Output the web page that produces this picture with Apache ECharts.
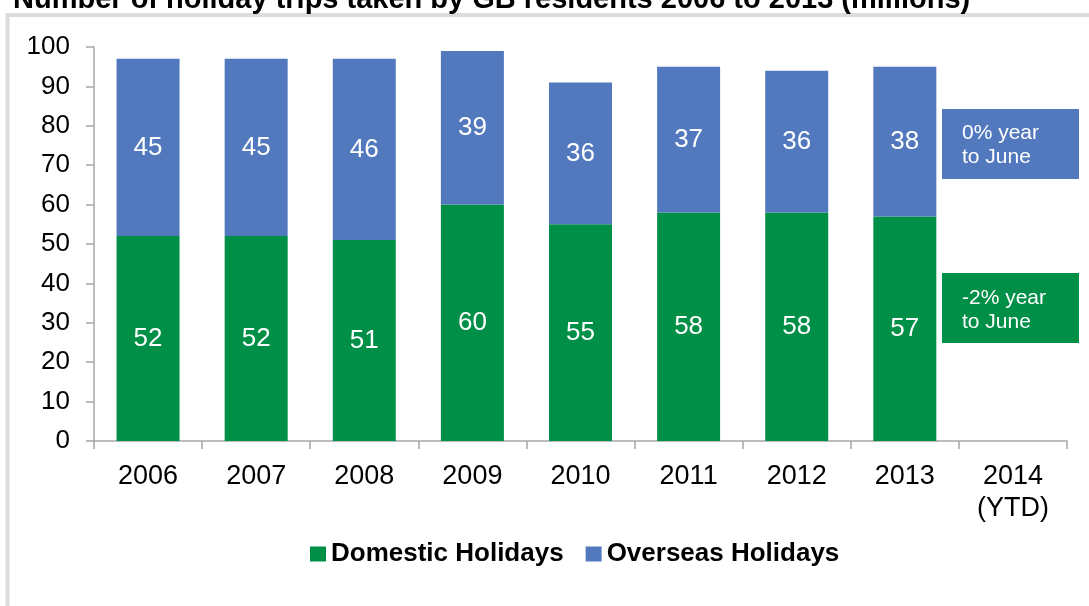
<!DOCTYPE html>
<html>
<head>
<meta charset="utf-8">
<script src="https://cdn.jsdelivr.net/npm/echarts@6/dist/echarts.min.js"></script>
<style>
  html, body { margin: 0; padding: 0; background: #ffffff; }
  #chart { width: 1089px; height: 606px; }
</style>
</head>
<body>
<div id="chart"></div>
<script>
// Holiday trips by GB residents, millions
const years = ['2006', '2007', '2008', '2009', '2010', '2011', '2012', '2013', '2014\n(YTD)'];
const domestic = [52, 52, 51, 60, 55, 58, 58, 57, null];
const overseas = [45, 45, 46, 39, 36, 37, 36, 38, null];
const yTicks = { min: 0, max: 100, interval: 10 };
const titleText = 'Number of holiday trips taken by GB residents 2006 to 2013 (millions)';
const notes = [
  { text: '0% year\nto June', color: '#5279be' },
  { text: '-2% year\nto June', color: '#008f47' }
];

const GREEN = '#008f47';
const BLUE = '#5279be';
const FONT = '"Liberation Sans", Arial, sans-serif';

const chart = echarts.init(document.getElementById('chart'), null, { renderer: 'canvas' });

const labelStyle = {
  show: true,
  position: 'inside',
  color: '#ffffff',
  fontFamily: FONT,
  fontSize: 26
};

chart.setOption({
  animation: false,
  backgroundColor: '#ffffff',
  grid: { left: 94, right: 22, top: 47, bottom: 165, containLabel: false },
  legend: {
    bottom: 34,
    left: 305,
    itemWidth: 16,
    itemHeight: 15,
    itemGap: 22,
    icon: 'rect',
    textStyle: { fontFamily: FONT, fontSize: 26, fontWeight: 'bold', color: '#000000' },
    data: ['Domestic Holidays', 'Overseas Holidays']
  },
  xAxis: {
    type: 'category',
    data: years,
    axisLine: { lineStyle: { color: '#a6a6a6', width: 1.5 } },
    axisTick: { show: true, length: 8, lineStyle: { color: '#a6a6a6', width: 1.5 } },
    axisLabel: { color: '#000000', fontFamily: FONT, fontSize: 27, lineHeight: 32, margin: 20 }
  },
  yAxis: {
    type: 'value',
    min: yTicks.min,
    max: yTicks.max,
    interval: yTicks.interval,
    splitLine: { show: false },
    axisLine: { show: true, lineStyle: { color: '#a6a6a6', width: 1.5 } },
    axisTick: { show: true, length: 8, lineStyle: { color: '#a6a6a6', width: 1.5 } },
    axisLabel: { color: '#000000', fontFamily: FONT, fontSize: 26, margin: 24 }
  },
  series: [
    {
      name: 'Domestic Holidays',
      type: 'bar',
      stack: 'trips',
      data: domestic,
      barWidth: 63,
      itemStyle: { color: GREEN },
      label: labelStyle
    },
    {
      name: 'Overseas Holidays',
      type: 'bar',
      stack: 'trips',
      data: overseas,
      barWidth: 63,
      itemStyle: { color: BLUE },
      label: labelStyle
    }
  ],
  graphic: [
    {
      type: 'rect',
      z: -1,
      shape: { x: 7.5, y: 15, width: 1200, height: 700 },
      style: { fill: 'none', stroke: '#dcdcdc', lineWidth: 4 }
    },
    {
      type: 'text',
      x: 13,
      y: 0,
      style: {
        text: titleText,
        fontFamily: FONT,
        fontSize: 29,
        fontWeight: 'bold',
        fill: '#000000',
        verticalAlign: 'middle'
      }
    },
    {
      type: 'group',
      x: 942,
      y: 109,
      children: [
        { type: 'rect', shape: { x: 0, y: 0, width: 137, height: 70 }, style: { fill: notes[0].color } },
        {
          type: 'text', x: 20, y: 36,
          style: { text: notes[0].text, fontFamily: FONT, fontSize: 21, lineHeight: 24, fill: '#ffffff', verticalAlign: 'middle' }
        }
      ]
    },
    {
      type: 'group',
      x: 942,
      y: 273,
      children: [
        { type: 'rect', shape: { x: 0, y: 0, width: 137, height: 70 }, style: { fill: notes[1].color } },
        {
          type: 'text', x: 20, y: 37,
          style: { text: notes[1].text, fontFamily: FONT, fontSize: 21, lineHeight: 24, fill: '#ffffff', verticalAlign: 'middle' }
        }
      ]
    }
  ]
});
</script>
</body>
</html>
